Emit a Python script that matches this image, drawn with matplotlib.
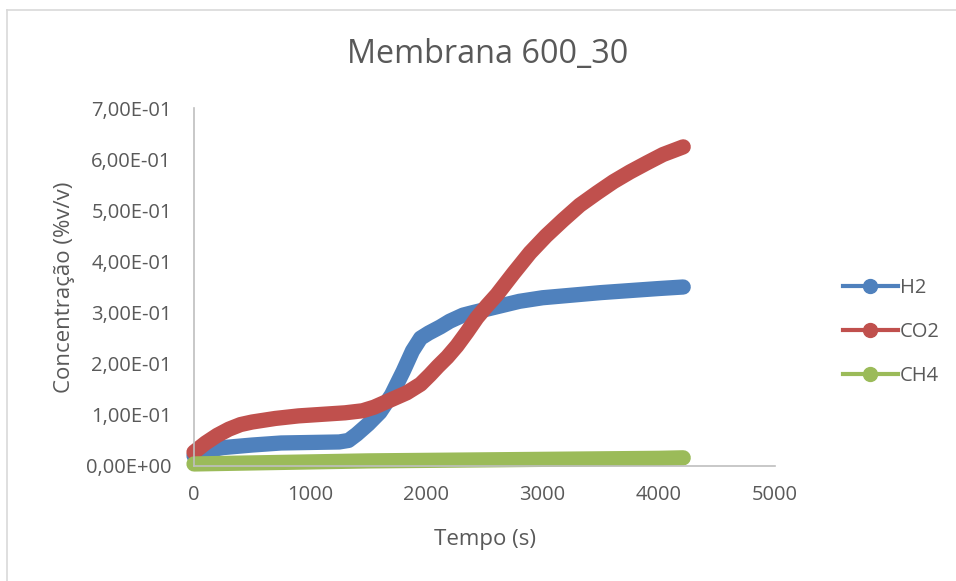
import numpy as np
import matplotlib
matplotlib.use("Agg")
import matplotlib.pyplot as plt
from matplotlib.lines import Line2D
from matplotlib.ticker import FuncFormatter

# Values
t_h2 = [0, 100, 250, 500, 750, 1000, 1250, 1330, 1400, 1500, 1600, 1700, 1800,
        1880, 1950, 2020, 2120, 2200, 2315, 2400, 2600, 2800, 3000, 3200, 3500,
        3750, 4000, 4210]
h2 = [0.020, 0.030, 0.036, 0.041, 0.045, 0.046, 0.047, 0.050, 0.062, 0.082,
      0.105, 0.139, 0.185, 0.225, 0.250, 0.260, 0.272, 0.283, 0.295, 0.300,
      0.311, 0.322, 0.329, 0.333, 0.339, 0.343, 0.347, 0.350]

t_co2 = [0, 100, 200, 300, 400, 500, 700, 900, 1100, 1300, 1450, 1550, 1700,
         1830, 1950, 2030, 2100, 2180, 2263, 2350, 2435, 2520, 2607, 2750, 2892,
         3030, 3176, 3320, 3468, 3610, 3752, 3900, 4036, 4210]
co2 = [0.027, 0.045, 0.060, 0.072, 0.081, 0.086, 0.093, 0.098, 0.101, 0.104,
       0.108, 0.115, 0.130, 0.143, 0.160, 0.178, 0.195, 0.213, 0.235, 0.262,
       0.290, 0.313, 0.335, 0.377, 0.417, 0.450, 0.481, 0.510, 0.534, 0.556,
       0.575, 0.593, 0.609, 0.624]

t_ch4 = [0, 500, 1000, 1500, 2000, 2500, 3000, 3500, 4000, 4210]
ch4 = [0.004, 0.006, 0.008, 0.010, 0.011, 0.012, 0.013, 0.014, 0.015, 0.016]

series = [("H2", t_h2, h2, "#4F81BD"),
          ("CO2", t_co2, co2, "#C0504D"),
          ("CH4", t_ch4, ch4, "#9BBB59")]

txt = "#595959"
axis_col = "#BFBFBF"
plt.rcParams['font.family'] = ['Open Sans', 'DejaVu Sans']

fig = plt.figure(figsize=(9.56, 5.81), dpi=100)
ax = fig.add_axes([194 / 956, 1 - 466 / 581, (775 - 194) / 956, (466 - 108) / 581])

# the thick look comes from Excel drawing a marker on every sample
for name, t, v, c in series:
    ax.plot(t, v, color=c, lw=11, solid_capstyle='round',
            solid_joinstyle='round', clip_on=False)

ax.set_xlim(0, 5000)
ax.set_ylim(0, 0.7)
ax.set_xticks(np.arange(0, 5001, 1000))
ax.set_yticks(np.arange(0, 0.71, 0.1))

def sci_comma(v, pos):
    s = "{:.2E}".format(v).replace(".", ",")
    return s

ax.yaxis.set_major_formatter(FuncFormatter(sci_comma))
ax.tick_params(length=0, labelsize=14.5, labelcolor=txt)
ax.tick_params(axis='y', pad=16)
ax.tick_params(axis='x', pad=14)
for s in ['top', 'right']:
    ax.spines[s].set_visible(False)
for s in ['left', 'bottom']:
    ax.spines[s].set_color(axis_col)
    ax.spines[s].set_linewidth(1.2)
ax.set_xlabel("Tempo (s)", fontsize=16, color=txt, labelpad=17)
ax.set_ylabel("Concentração (%v/v)", fontsize=16, color=txt, labelpad=8)

fig.text(488 / 956, 1 - 55 / 581, "Membrana 600_30", fontsize=23.3, color=txt,
         ha='center', va='center')

handles = [Line2D([0], [0], color=c, lw=3, marker='o', markersize=10)
           for name, t, v, c in series]
fig.legend(handles, [s[0] for s in series], loc='center left',
           bbox_to_anchor=(825 / 956, 1 - 332 / 581), frameon=False,
           fontsize=14.5, labelcolor=txt, handlelength=2.7, labelspacing=1.2,
           handletextpad=0.12)

# partial chart-area border (left and top edges only are in view)
fig.add_artist(Line2D([7 / 956, 7 / 956], [0, 1 - 10 / 581], color="#D9D9D9", lw=1.2))
fig.add_artist(Line2D([7 / 956, 1], [1 - 10 / 581, 1 - 10 / 581], color="#D9D9D9", lw=1.2))

fig.savefig("out.png", dpi=100, facecolor='white')
